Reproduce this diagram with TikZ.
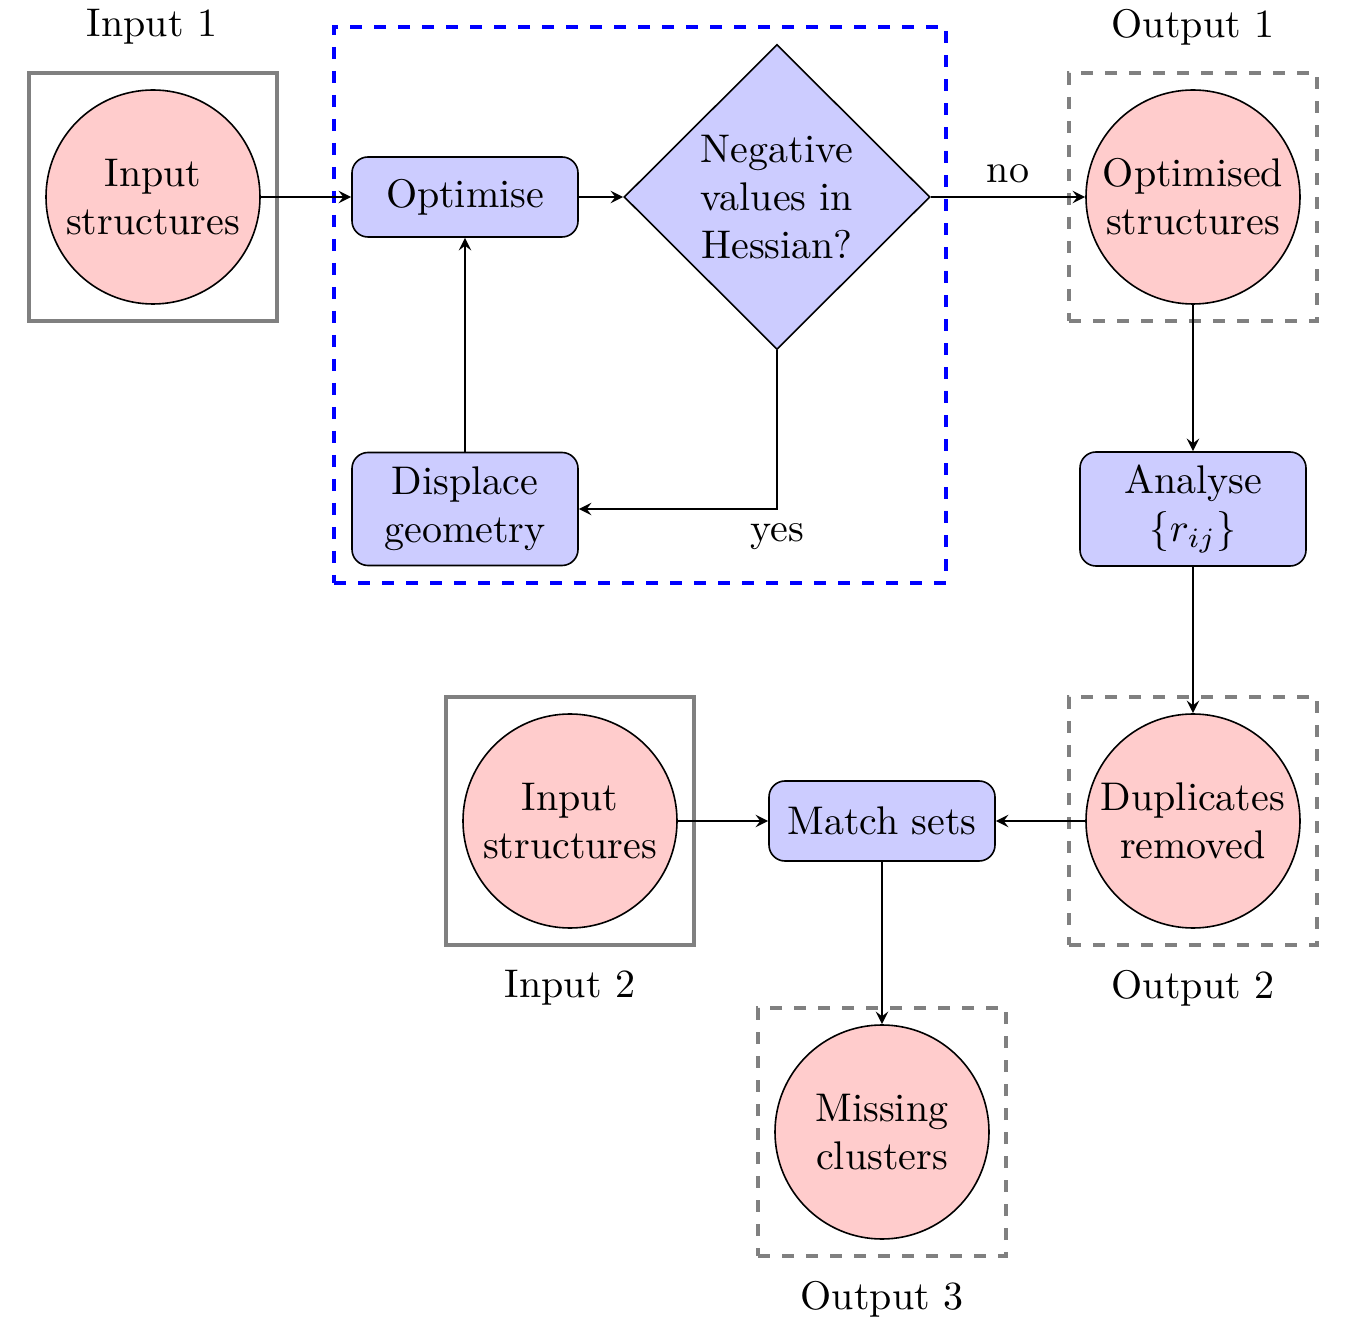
\documentclass[tikz,border=0pt]{standalone}
\usetikzlibrary{shapes.geometric,arrows}
\begin{document}
\begin{tikzpicture}[x=0.25pt,y=-0.25pt,
  datanode/.style={circle,draw,fill=red!20,minimum size=53.5pt,inner sep=0pt,align=center,thin},
  procnode/.style={rectangle,rounded corners=4pt,draw,fill=blue!20,minimum width=56.5pt,inner sep=0pt,align=center,thin},
  decnode/.style={diamond,draw,fill=blue!20,minimum width=76.5pt,minimum height=76.25pt,inner sep=0pt,align=center,thin},
  inbox/.style={draw=gray,thick},
  outbox/.style={draw=gray,thick,dashed},
  loopbox/.style={draw=blue,thick,dashed},
  arr/.style={-stealth,thin},
  lbl/.style={inner sep=0pt}]
\useasboundingbox (0,0) rectangle (1350,1325);
% frames
\node[inbox,minimum size=62pt,inner sep=0pt] (b1) at (153,197) {};
\node[loopbox,minimum width=153pt,minimum height=139pt,inner sep=0pt] (loop) at (640,305) {};
\node[outbox,minimum size=62pt,inner sep=0pt] (b2) at (1193,197) {};
\node[outbox,minimum size=62pt,inner sep=0pt] (b3) at (1193,821) {};
\node[inbox,minimum size=62pt,inner sep=0pt] (b4) at (570,821) {};
\node[outbox,minimum size=62pt,inner sep=0pt] (b5) at (882,1132) {};
% labels
\node[lbl] (l1) at (152,27) {Input 1};
\node[lbl] (l2) at (1193,27) {Output 1};
\node[lbl] (l3) at (1193,988) {Output 2};
\node[lbl] (l4) at (570,988) {Input 2};
\node[lbl] (l5) at (882,1299) {Output 3};
% nodes
\node[datanode] (in1) at (153,197) {Input\\structures};
\node[procnode,minimum height=20pt] (opt) at (465,197) {Optimise};
\node[decnode] (dec) at (777,197) {Negative\\values in\\Hessian?};
\node[procnode,minimum height=28.25pt] (disp) at (465,509) {Displace\\geometry};
\node[datanode] (out1) at (1193,197) {Optimised\\structures};
\node[procnode,minimum height=28.5pt] (ana) at (1193,509) {Analyse\\$\{r_{ij}\}$};
\node[datanode] (dup) at (1193,821) {Duplicates\\removed};
\node[datanode] (in2) at (570,821) {Input\\structures};
\node[procnode,minimum height=20pt] (match) at (882,821) {Match sets};
\node[datanode] (miss) at (882,1132) {Missing\\clusters};
% connectors
\draw[arr] (in1) -- (opt);
\draw[arr] (opt) -- (dec);
\draw[arr] (dec) -- node[above=0pt] {no} (out1);
\draw[arr] (dec.south) |- (disp.east);
\node[lbl] (yes) at (777,537) {yes};
\draw[arr] (disp) -- (opt);
\draw[arr] (out1) -- (ana);
\draw[arr] (ana) -- (dup);
\draw[arr] (dup) -- (match);
\draw[arr] (in2) -- (match);
\draw[arr] (match) -- (miss);
\end{tikzpicture}
\end{document}
